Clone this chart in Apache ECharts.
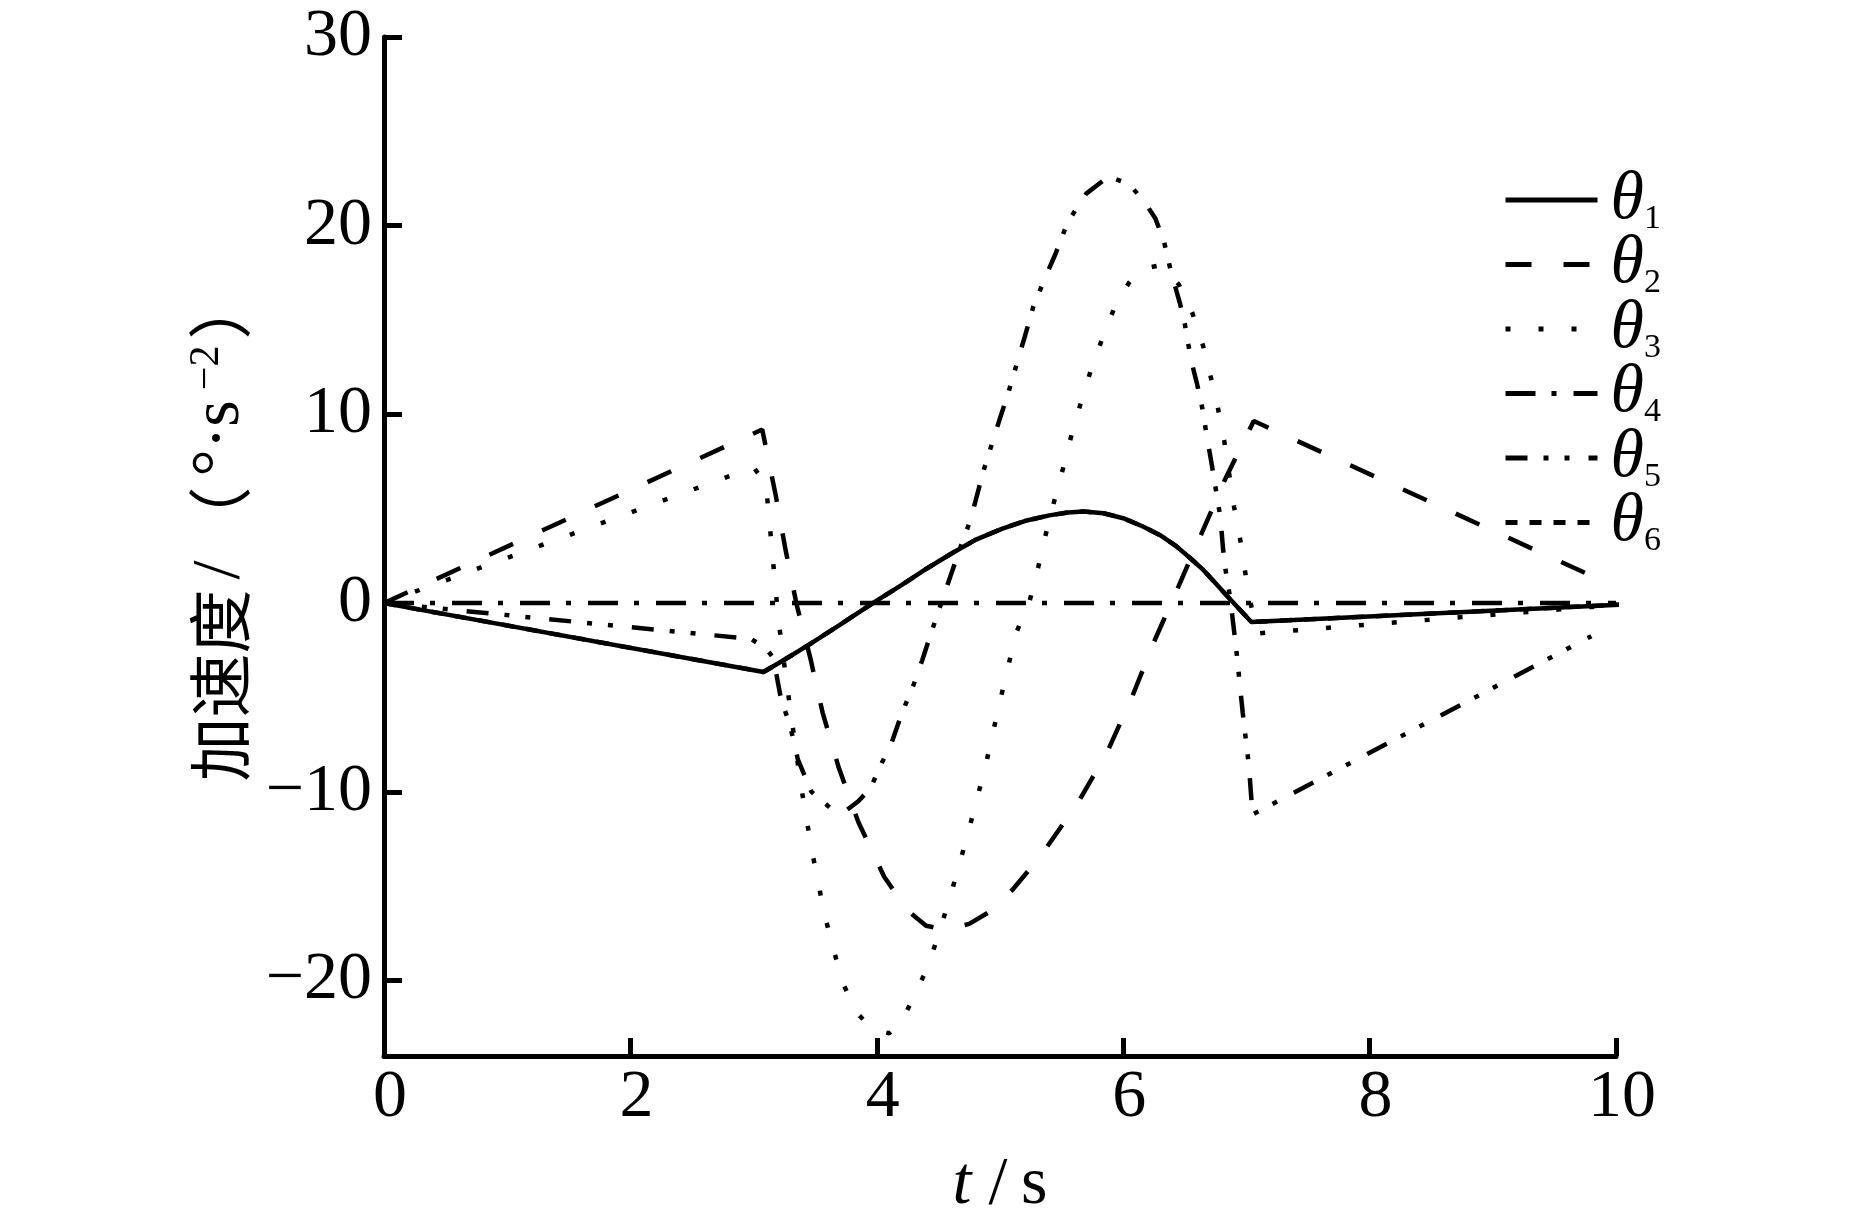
<!DOCTYPE html>
<html>
<head>
<meta charset="utf-8">
<title>加速度</title>
<script src="https://cdn.jsdelivr.net/npm/echarts@6/dist/echarts.min.js"></script>
<style>
html, body { margin: 0; padding: 0; background: #fff; }
#chart { width: 1866px; height: 1212px; }
</style>
</head>
<body>
<div id="chart"></div>
<script>
// axis ticks
const yTicks = [-20, -10, 0, 10, 20, 30]

// series names (legend)
const names = ['θ1', 'θ2', 'θ3', 'θ4', 'θ5', 'θ6']

// [t (s), acceleration (°·s^-2)]
const theta1 = [[0, 0], [3.08, -3.65], [3.25, -3.0], [3.46, -2.16], [3.7, -1.15], [3.98, 0.05], [4.2, 0.95],
  [4.41, 1.85], [4.6, 2.6], [4.8, 3.35], [5.02, 3.95], [5.2, 4.35], [5.4, 4.65], [5.55, 4.8], [5.68, 4.85],
  [5.84, 4.76], [6.0, 4.5], [6.16, 4.06], [6.3, 3.6], [6.43, 3.02], [6.55, 2.35], [6.65, 1.76], [6.75, 1.05],
  [6.84, 0.4], [6.94, -0.3], [7.04, -1.0], [10.3, 0]]

const theta2 = [[0, 0], [3.07, 9.2], [3.18, 5.7], [3.26, 2.8], [3.35, -0.1], [3.46, -2.9], [3.56, -5.8],
  [3.69, -8.7], [3.85, -11.6], [4.06, -14.5], [4.25, -16.3], [4.4, -17.1], [4.55, -17.3], [4.75, -17.0],
  [4.93, -16.3], [5.1, -15.2], [5.33, -13.4], [5.63, -10.6], [5.87, -7.9], [6.07, -5.0], [6.26, -1.9],
  [6.45, 0.9], [6.63, 3.6], [6.83, 6.6], [7.06, 9.65], [9.9, 1.15]]

const theta3 = [[0, 0], [3.0, 7.2], [3.1, 6.3], [3.15, 2.8], [3.2, -0.8], [3.27, -4.3], [3.38, -9.5],
  [3.47, -13.0], [3.575, -16.5], [3.72, -20.1], [3.85, -21.8], [3.97, -22.6], [4.1, -22.8], [4.2, -22.2],
  [4.29, -21.0], [4.42, -19.2], [4.59, -15.7], [4.74, -12.2], [4.88, -8.7], [5.0, -5.2], [5.13, -1.6],
  [5.24, 0.1], [5.31, 1.9], [5.37, 3.6], [5.44, 5.4], [5.51, 7.1], [5.58, 8.9], [5.66, 10.7], [5.74, 12.4],
  [5.84, 14.2], [5.95, 16.0], [6.05, 17.0], [6.14, 17.7], [6.3, 17.9], [6.45, 16.9], [6.56, 15.4],
  [6.65, 13.6], [6.71, 12.0], [6.77, 10.3], [6.82, 8.6], [6.9, 5.1], [6.96, 3.0], [7.0, 1.2], [7.05, -0.5],
  [7.1, -1.6], [9.8, -0.2], [10, -0.1]]

const theta4 = [[0, 0], [10, 0]]

const theta5 = [[0, 0], [2.98, -1.9], [3.1, -2.4], [3.16, -2.9], [3.22, -5.0], [3.3, -6.6], [3.36, -8.3],
  [3.47, -10.0], [3.63, -10.9], [3.75, -11.0], [3.85, -10.5], [3.95, -9.8], [4.02, -8.75], [4.12, -7.4],
  [4.2, -5.9], [4.3, -4.3], [4.37, -3.0], [4.44, -1.6], [4.57, 0.9], [4.67, 2.8], [4.76, 4.4], [4.87, 7.1],
  [5.0, 9.8], [5.07, 11.2], [5.2, 14.1], [5.27, 15.7], [5.37, 17.3], [5.45, 18.5], [5.55, 20.2], [5.7, 21.7],
  [5.88, 22.6], [6.05, 22.2], [6.18, 21.2], [6.26, 20.4], [6.33, 19.2], [6.39, 17.5], [6.46, 15.9],
  [6.5, 14.8], [6.55, 12.9], [6.6, 11.6], [6.64, 10.4], [6.68, 8.8], [6.72, 7.3], [6.75, 6.1], [6.79, 4.5],
  [6.81, 2.9], [6.83, 1.8], [6.87, 0.2], [6.92, -2.6], [6.97, -5.8], [7.02, -8.6], [7.05, -11.2], [9.8, -1.75]]

// θ6 lies under the solid θ1 line
const theta6 = theta1.map(p => [p[0], p[1]])

const serif = '"Liberation Serif", "Times New Roman", serif'
const dashes = ['solid', [26, 32], [5, 28], [30, 16, 5, 17], [22, 16, 5, 16, 5, 19], [12, 12]]
const datas = [theta1, theta2, theta3, theta4, theta5, theta6]

const chart = echarts.init(document.getElementById('chart'))
chart.setOption({
  animation: false,
  backgroundColor: '#fff',
  color: ['#000'],
  grid: { left: 384, right: 250, top: 37, bottom: 156, containLabel: false, outerBoundsMode: 'none' },
  legend: {
    orient: 'vertical',
    left: 1503,
    top: 166,
    padding: 0,
    itemWidth: 92,
    itemHeight: 14,
    itemGap: -5.5,
    data: names.map((n, i) => ({
      name: n,
      lineStyle: { color: '#000', width: 5, type: dashes[i] },
      itemStyle: { opacity: 0 }
    })),
    formatter: name => '{t|θ}{s|' + name.slice(1) + '}',
    textStyle: {
      color: '#000',
      rich: {
        t: { fontFamily: serif, fontStyle: 'italic', fontSize: 68, lineHeight: 56, padding: [0, 0, 0, 8] },
        s: { fontFamily: serif, fontSize: 34, lineHeight: 34, verticalAlign: 'bottom', padding: [0, 0, -8, 0] }
      }
    }
  },
  xAxis: {
    type: 'value',
    min: 0,
    max: 10,
    interval: 2,
    name: '{i|t}{n| /\u2009s}',
    nameLocation: 'middle',
    nameGap: 95,
    nameTextStyle: {
      color: '#000',
      rich: {
        i: { fontFamily: serif, fontStyle: 'italic', fontSize: 68 },
        n: { fontFamily: serif, fontSize: 68 }
      }
    },
    axisLine: { onZero: false, lineStyle: { color: '#000', width: 5 } },
    axisTick: { inside: true, length: 18, lineStyle: { color: '#000', width: 5 } },
    axisLabel: { color: '#000', fontFamily: serif, fontSize: 68, margin: 8, padding: [0, 0, 0, 12] },
    splitLine: { show: false }
  },
  yAxis: {
    type: 'value',
    min: -24,
    max: 30,
    name: '{cn|加速度}{r|/}{cn|（}{r|°·s}{sup|−2}{cn|）}',
    nameLocation: 'middle',
    nameRotate: 90,
    nameGap: 130,
    nameTextStyle: {
      color: '#000',
      padding: [0, 0, 0, 36],
      rich: {
        cn: { fontFamily: '"Noto Sans CJK SC"', fontSize: 64, lineHeight: 68 },
        r: { fontFamily: serif, fontSize: 68, lineHeight: 68, padding: [0, 10] },
        sup: { fontFamily: serif, fontSize: 42, lineHeight: 42, verticalAlign: 'top', padding: [0, 6, 0, 0] }
      }
    },
    axisLine: { onZero: false, lineStyle: { color: '#000', width: 5 } },
    axisTick: { inside: true, length: 18, customValues: yTicks, lineStyle: { color: '#000', width: 5 } },
    axisLabel: {
      color: '#000', fontFamily: serif, fontSize: 68, margin: 12, customValues: yTicks,
      formatter: v => String(v).replace('-', '\u2212')
    },
    splitLine: { show: false }
  },
  series: names.map((n, i) => ({
    name: n,
    type: 'line',
    data: datas[i],
    symbol: 'none',
    clip: false,
    lineStyle: { color: '#000', width: 4.5, type: dashes[i] },
    emphasis: { disabled: true }
  }))
})
</script>
</body>
</html>
